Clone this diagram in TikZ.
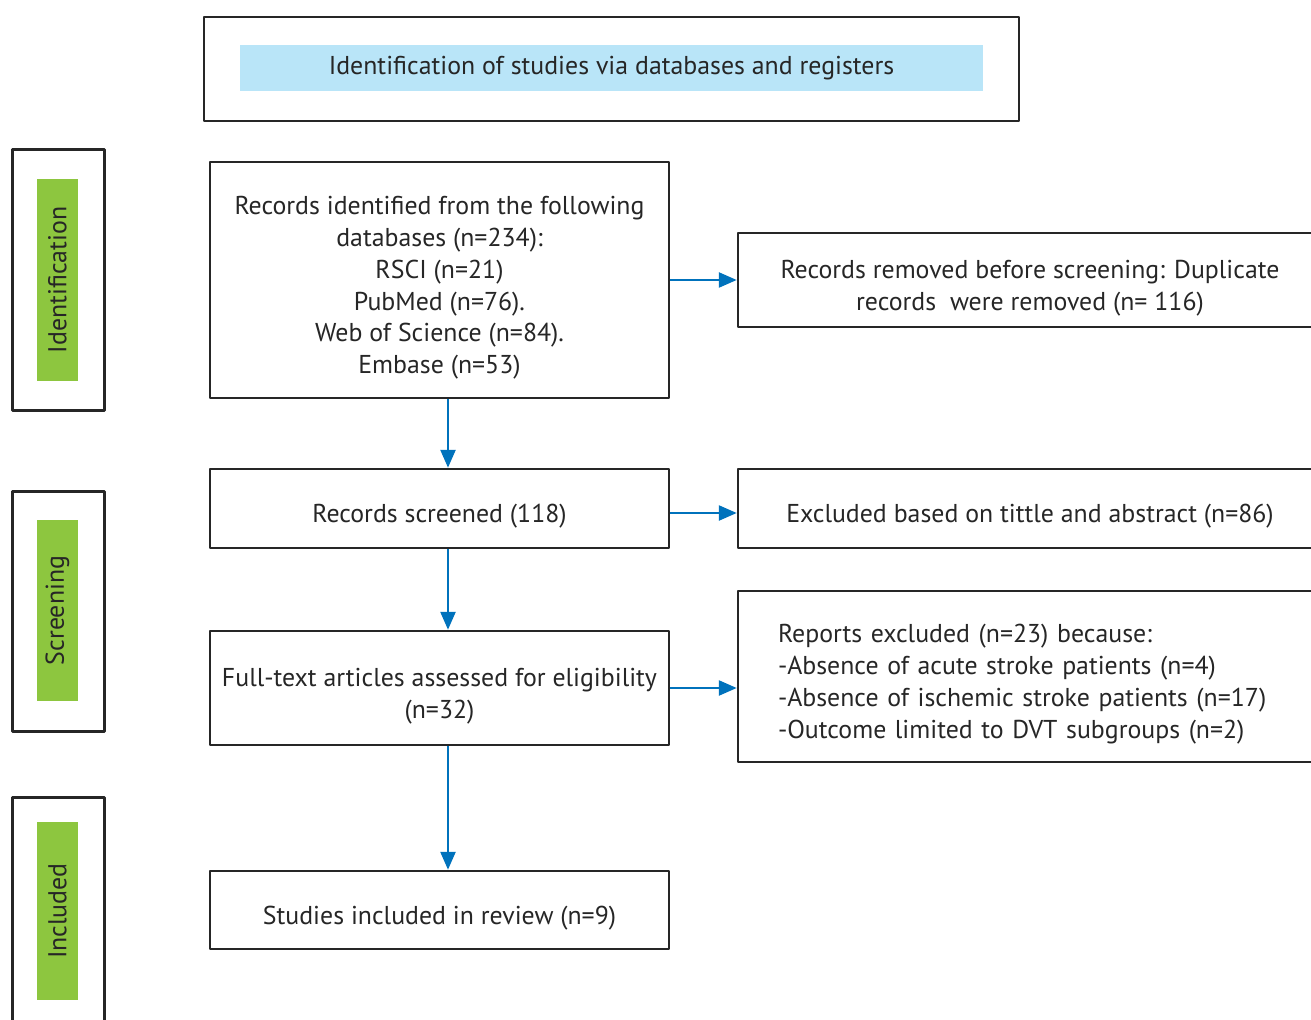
\documentclass[tikz,border=0pt]{standalone}
\usepackage{fontspec}
\setmainfont{PT Sans}
\usetikzlibrary{arrows.meta}
\definecolor{titleblue}{HTML}{B9E5F8}
\definecolor{stagegreen}{HTML}{8DC63F}
\definecolor{arrowblue}{HTML}{0072BC}
\def\px{0.02cm}
\newcommand\lift{\rule{0pt}{0.68cm}}
\begin{document}
\begin{tikzpicture}[x=\px, y=-\px, font=\fontsize{14.7}{18.1}\selectfont, line join=round,
  box/.style={draw=black!85, line width=2.5*\px, inner sep=0pt, align=center, text=black!85},
  stagebox/.style={draw=black!85, line width=3*\px, minimum width=92*\px, inner sep=0pt},
  tag/.style={fill=stagegreen, rotate=90, minimum width=#1*\px, minimum height=41*\px, inner sep=0pt, text=black!85},
  flow/.style={draw=arrowblue, line width=2.5*\px, -{Triangle[length=18*\px,width=15*\px]}}]
\useasboundingbox (0,0) rectangle (1311,1020);
\clip (0,0) rectangle (1311,1020);
% heading
\node[box, minimum width=815*\px, minimum height=104*\px] (head) at (611.5,69) {};
\node[fill=titleblue, minimum width=743*\px, minimum height=46*\px, inner sep=0pt, text=black!85] (headtext) at (611.5,68) {Identification of studies via databases and registers};
% stages
\node[stagebox, minimum height=260*\px] (idbox) at (58,280) {};
\node[tag=202] (idtag) at (57.5,280) {Identification};
\node[stagebox, minimum height=240*\px] (scbox) at (58,611) {};
\node[tag=181] (sctag) at (57.5,610.5) {Screening};
\node[stagebox, minimum height=250*\px] (inbox) at (58,922) {};
\node[tag=178] (intag) at (57.5,911) {Included};
% main column
\node[box, minimum width=459*\px, minimum height=236*\px] (found) at (439.5,280) {\lift Records identified from the following\\databases (n=234):\\RSCI (n=21)\\PubMed (n=76).\\Web of Science (n=84).\\Embase (n=53)};
\node[box, minimum width=459*\px, minimum height=79*\px] (screened) at (439.5,508.5) {\lift Records screened (118)};
\node[box, minimum width=459*\px, minimum height=114*\px] (fulltext) at (439.5,688) {\lift Full-text articles assessed for eligibility\\(n=32)};
\node[box, minimum width=459*\px, minimum height=78*\px] (included) at (439.5,910) {\lift Studies included in review (n=9)};
% right column
\node[box, minimum width=584*\px, minimum height=94*\px] (dupes) at (1030,280) {\lift Records removed before screening: Duplicate\\records\ \ were removed (n= 116)};
\node[box, minimum width=584*\px, minimum height=79*\px] (excl) at (1030,508.5) {\lift Excluded based on tittle and abstract (n=86)};
\node[box, minimum height=171*\px, inner xsep=40*\px, text width=504*\px, align=left] (reports) at (1030,676.5) {\lift Reports excluded (n=23) because:\\-Absence of acute stroke patients (n=4)\\-Absence of ischemic stroke patients (n=17)\\-Outcome limited to DVT subgroups (n=2)};
% arrows
\draw[flow] (found.east) -- (dupes.west);
\draw[flow] ([yshift=-4.5*\px]screened.east) -- ([yshift=-4.5*\px]excl.west);
\draw[flow] (fulltext.east) -- (fulltext.east -| reports.west);
\draw[flow] ([xshift=8.5*\px]found.south) -- ([xshift=8.5*\px]screened.north);
\draw[flow] ([xshift=8.5*\px]screened.south) -- ([xshift=8.5*\px]fulltext.north);
\draw[flow] ([xshift=8.5*\px]fulltext.south) -- ([xshift=8.5*\px]included.north);
\end{tikzpicture}
\end{document}
